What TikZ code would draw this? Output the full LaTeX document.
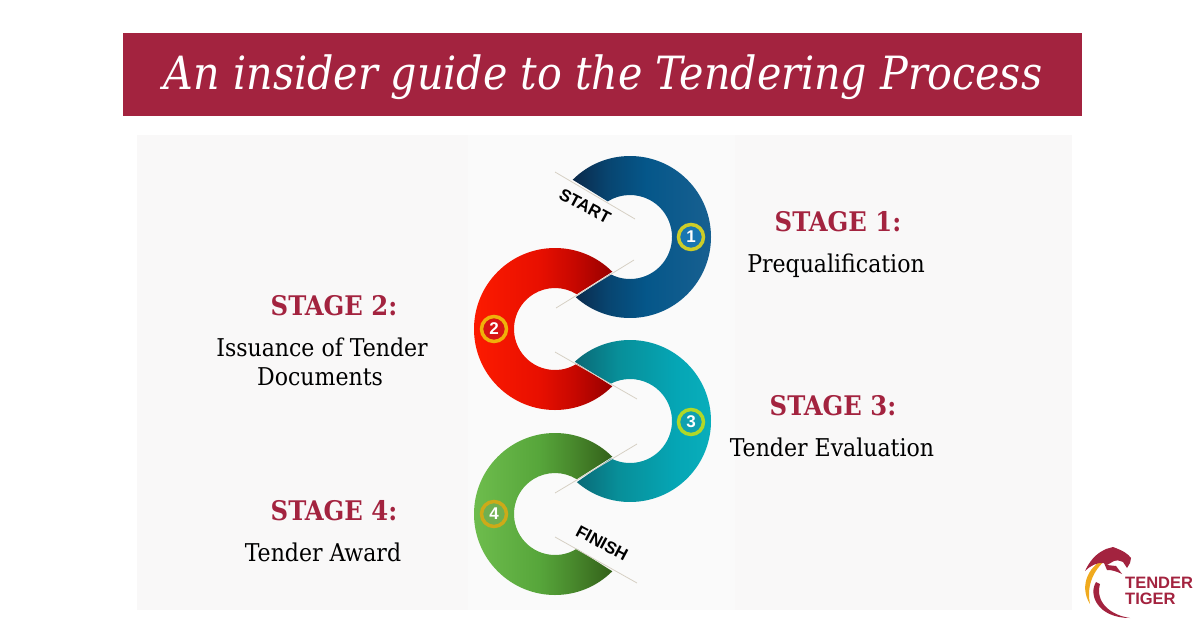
\documentclass[tikz,border=0pt]{standalone}
\usepackage{fontspec}
\setmainfont{DejaVu Serif Condensed}
\newfontfamily\logofont{Liberation Sans}
\usetikzlibrary{shadows}
\definecolor{wine}{HTML}{A3233F}
\definecolor{panelgray}{HTML}{F9F8F8}
\definecolor{panelmid}{HTML}{FAFAFA}
\definecolor{logogold}{HTML}{F0AA1E}
\definecolor{ringone}{HTML}{CDCD28}
\definecolor{ringtwo}{HTML}{F0B00A}
\definecolor{ringthree}{HTML}{B0D828}
\definecolor{ringfour}{HTML}{CDAA18}
\definecolor{dotone}{HTML}{1876B2}
\definecolor{dottwo}{HTML}{D71414}
\definecolor{dotthree}{HTML}{10A0B0}
\definecolor{dotfour}{HTML}{70B050}
\definecolor{guideline}{HTML}{D6D0C4}
\pgfdeclarehorizontalshading{bluefade}{100bp}{rgb(0bp)=(0.04,0.16,0.29); rgb(25bp)=(0.04,0.16,0.29); rgb(37bp)=(0.03,0.27,0.44); rgb(50bp)=(0.02,0.34,0.54); rgb(75bp)=(0.10,0.38,0.57); rgb(100bp)=(0.10,0.38,0.57)}
\pgfdeclarehorizontalshading{redfade}{100bp}{rgb(0bp)=(1,0.11,0); rgb(25bp)=(1,0.11,0); rgb(50bp)=(0.91,0.06,0); rgb(62bp)=(0.78,0.03,0); rgb(75bp)=(0.59,0,0); rgb(100bp)=(0.59,0,0)}
\pgfdeclarehorizontalshading{tealfade}{100bp}{rgb(0bp)=(0.04,0.41,0.46); rgb(25bp)=(0.04,0.41,0.46); rgb(40bp)=(0.03,0.56,0.60); rgb(60bp)=(0.02,0.65,0.71); rgb(75bp)=(0.04,0.69,0.74); rgb(100bp)=(0.04,0.69,0.74)}
\pgfdeclarehorizontalshading{greenfade}{100bp}{rgb(0bp)=(0.44,0.75,0.31); rgb(25bp)=(0.44,0.75,0.31); rgb(50bp)=(0.34,0.65,0.23); rgb(62bp)=(0.28,0.53,0.17); rgb(75bp)=(0.20,0.38,0.10); rgb(100bp)=(0.20,0.38,0.10)}
\begin{document}
\begin{tikzpicture}[x=1pt,y=-1pt,
    stagehead/.style={text=wine,font=\fontsize{27}{27}\selectfont\bfseries,inner sep=0},
    stagetext/.style={text=black,font=\fontsize{24.5}{24.5}\selectfont,inner sep=0},
    badge/.style={circle,line width=3.5,minimum size=25,inner sep=0,text=white,font=\logofont\fontsize{17}{17}\selectfont\bfseries,drop shadow={shadow xshift=1,shadow yshift=-1.5,opacity=0.3}},
    guide/.style={draw=guideline,line width=0.8},
    endtag/.style={rotate=-28,inner sep=0,font=\logofont\fontsize{17}{17}\selectfont\bfseries},
    logotext/.style={anchor=west,text=wine,inner sep=0,font=\logofont\fontsize{16.5}{16.5}\selectfont\bfseries}]
    \useasboundingbox (0,0) rectangle (1200,630);
    \fill[white] (0,0) rectangle (1200,630);
    \fill[panelgray] (137,135) rectangle (1072,610);
    \fill[panelmid] (468,135) rectangle (735,610);
    \fill[wine] (123,33) rectangle (1082,116);
    \node (title) at (603,77)[text=white,inner sep=0,font=\fontsize{45.8}{45.8}\selectfont\itshape]{An insider guide to the Tendering Process};
    % blue part
    \begin{scope}[shift={(630,237)}]
        \shade[shading=bluefade]
            (-135:81) arc[start angle=-135,end angle=132,radius=81] -- (118:42) arc[start angle=118,end angle=-122,radius=42] -- cycle;
    \end{scope}
    % red part
    \begin{scope}[shift={(555,329)}]
        \shade[shading=redfade]
            (-45:81) arc[start angle=-45,end angle=-315,radius=81] -- (-302:41) arc[start angle=-302,end angle=-58,radius=41] -- cycle;
    \end{scope}
    % teal part
    \begin{scope}[shift={(630,421)}]
        \shade[shading=tealfade]
            (-133:81) arc[start angle=-133,end angle=131,radius=81] -- (117:42) arc[start angle=117,end angle=-118,radius=42] -- cycle;
    \end{scope}
    % green part
    \begin{scope}[shift={(555,514)}]
        \shade[shading=greenfade]
            (-45:81) arc[start angle=-45,end angle=-315,radius=81] -- (-302:41) arc[start angle=-302,end angle=-58,radius=41] -- cycle;
    \end{scope}
    % thin lines at the joints
    \coordinate (a1) at (555,172); \coordinate (a2) at (635,219);
    \coordinate (b1) at (634,260); \coordinate (b2) at (556,308);
    \coordinate (c1) at (555,352); \coordinate (c2) at (637,399);
    \coordinate (d1) at (637,444); \coordinate (d2) at (555,493);
    \coordinate (e1) at (555,537); \coordinate (e2) at (637,583);
    \draw[guide] (a1)--(a2);
    \draw[guide] (b1)--(b2);
    \draw[guide] (c1)--(c2);
    \draw[guide] (d1)--(d2);
    \draw[guide] (e1)--(e2);
    % numbers on the parts
    \node[badge,draw=ringone,fill=dotone] (one) at (691,237){1};
    \node[badge,draw=ringtwo,fill=dottwo] (two) at (494,329){2};
    \node[badge,draw=ringthree,fill=dotthree] (three) at (691,422){3};
    \node[badge,draw=ringfour,fill=dotfour] (four) at (494,514){4};
    \node[endtag] (start) at (585,206){START};
    \node[endtag] (finish) at (602,543){FINISH};
    % texts
    \node[stagehead] (headone) at (838,222){STAGE 1:};
    \node[stagetext] (textone) at (836,266){Prequalification};
    \node[stagehead] (headtwo) at (334,306){STAGE 2:};
    \node[stagetext] (texttwoa) at (322,347){Issuance of Tender};
    \node[stagetext] (texttwob) at (320,377){Documents};
    \node[stagehead] (headthree) at (833,406){STAGE 3:};
    \node[stagetext] (textthree) at (832,447){Tender Evaluation};
    \node[stagehead] (headfour) at (334,511){STAGE 4:};
    \node[stagetext] (textfour) at (323,552){Tender Award};
    % logo
    \fill[logogold] (1108,558) .. controls (1090,563) and (1078,585) .. (1090,604) .. controls (1087,590) and (1090,572) .. (1108,558) -- cycle;
    \fill[wine] (1096,582) .. controls (1088,595) and (1098,618) .. (1130,618) .. controls (1110,615) and (1095,602) .. (1100,584) -- cycle;
    \fill[wine] (1085,571) .. controls (1092,556) and (1100,552) .. (1106,549) -- (1113,547) .. controls (1124,551) and (1128,554) .. (1131,558) -- (1130,563) -- (1127,568) -- (1123,562) .. controls (1118,560) and (1116,560) .. (1114,561) -- (1107,565) -- (1116,566) -- (1122,574) .. controls (1116,571) and (1112,570) .. (1107,570) -- (1104,563) .. controls (1097,562) and (1090,566) .. (1085,571) -- cycle;
    \node[logotext] (logoa) at (1125,583){TENDER};
    \node[logotext] (logob) at (1125,599){TIGER};
\end{tikzpicture}
\end{document}
